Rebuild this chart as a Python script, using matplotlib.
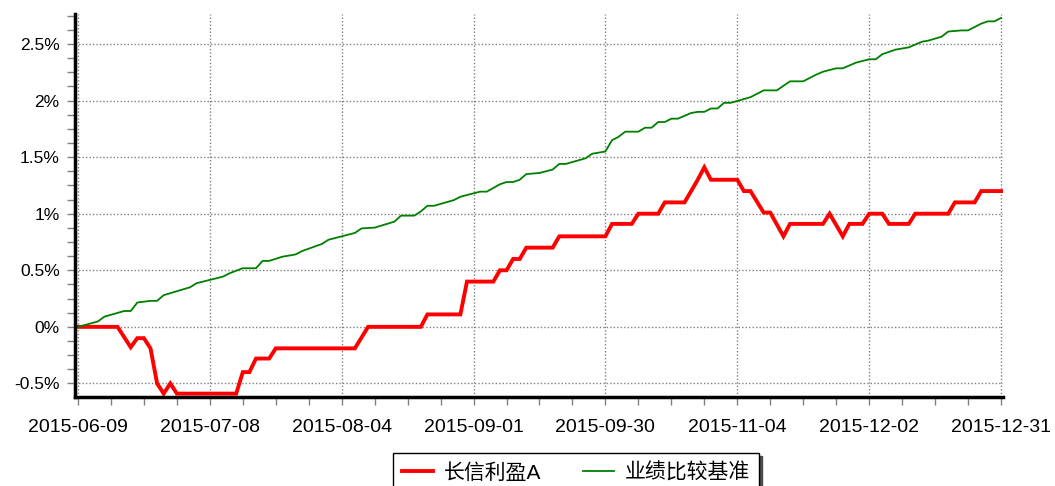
import matplotlib.pyplot as plt
from matplotlib.ticker import MultipleLocator

plt.rcParams['font.family'] = ['Liberation Sans', 'Noto Sans CJK SC']

# trading-day index (0 = 2015-06-09) and cumulative return in %
fund_days = [0, 6, 8, 9, 10, 11, 12, 13, 14, 15, 24, 25, 26, 27, 29, 30, 42, 44,
             52, 53, 58, 59, 63, 64, 65, 66, 67, 68, 72, 73, 80, 81, 84, 85, 88,
             89, 92, 94, 95, 96, 100, 101, 102, 104, 105, 107, 108, 113, 114, 116,
             117, 119, 120, 122, 123, 126, 127, 132, 133, 136, 137, 140]
fund_vals = [0, 0, -0.18, -0.1, -0.1, -0.19, -0.5, -0.59, -0.5, -0.59, -0.59, -0.4,
             -0.4, -0.28, -0.28, -0.19, -0.19, 0, 0, 0.11, 0.11, 0.4, 0.4, 0.5, 0.5,
             0.6, 0.6, 0.7, 0.7, 0.8, 0.8, 0.91, 0.91, 1.0, 1.0, 1.1, 1.1, 1.3, 1.41,
             1.3, 1.3, 1.2, 1.2, 1.01, 1.01, 0.8, 0.91, 0.91, 1.0, 0.8, 0.91, 0.91,
             1.0, 1.0, 0.91, 0.91, 1.0, 1.0, 1.1, 1.1, 1.2, 1.2]

bench_days = [0, 3, 4, 7, 8, 9, 11, 12, 13, 17, 18, 20, 22, 23, 25, 27, 28, 29, 31,
              33, 34, 37, 38, 40, 42, 43, 45, 48, 49, 51, 52, 53, 54, 57, 58, 61, 62,
              64, 65, 66, 67, 68, 70, 72, 73, 74, 77, 78, 80, 81, 82, 83, 85, 86, 87,
              88, 89, 90, 91, 93, 94, 95, 96, 97, 98, 99, 102, 103, 104, 106, 107,
              108, 110, 112, 113, 115, 116, 118, 120, 121, 122, 124, 126, 128, 129,
              131, 132, 134, 135, 137, 138, 139, 140]
bench_vals = [0, 0.047, 0.09, 0.14, 0.14, 0.215, 0.23, 0.23, 0.28, 0.35, 0.386, 0.415,
              0.444, 0.474, 0.518, 0.518, 0.583, 0.583, 0.62, 0.64, 0.67, 0.733, 0.77,
              0.80, 0.83, 0.87, 0.877, 0.93, 0.983, 0.983, 1.02, 1.07, 1.07, 1.12,
              1.15, 1.195, 1.195, 1.26, 1.28, 1.28, 1.30, 1.35, 1.36, 1.39, 1.44, 1.44,
              1.49, 1.53, 1.55, 1.65, 1.68, 1.725, 1.725, 1.76, 1.76, 1.81, 1.81, 1.84,
              1.84, 1.89, 1.90, 1.90, 1.93, 1.93, 1.98, 1.98, 2.03, 2.06, 2.09, 2.09,
              2.13, 2.17, 2.17, 2.23, 2.255, 2.285, 2.285, 2.335, 2.365, 2.365, 2.41,
              2.45, 2.47, 2.52, 2.53, 2.565, 2.61, 2.62, 2.62, 2.68, 2.70, 2.70, 2.73]

tick_days = [0, 20, 40, 60, 80, 100, 120, 140]
tick_labels = ['2015-06-09', '2015-07-08', '2015-08-04', '2015-09-01',
               '2015-09-30', '2015-11-04', '2015-12-02', '2015-12-31']
y_ticks = [-0.5, 0, 0.5, 1, 1.5, 2, 2.5]
y_labels = ['-0.5%', '0%', '0.5%', '1%', '1.5%', '2%', '2.5%']
series_names = ['长信利盈A', '业绩比较基准']

fig = plt.figure(figsize=(10.55, 4.86), dpi=100)
ax = fig.add_axes([0.0711, 0.1831, 0.8796, 0.7881])

ax.plot(fund_days, fund_vals, color='#ff0000', lw=2.8, label=series_names[0],
        solid_joinstyle='miter')
ax.plot(bench_days, bench_vals, color='#008000', lw=1.3, label=series_names[1])

ax.set_xlim(-0.45, 140.3)
ax.set_ylim(-0.62, 2.765)

ax.set_xticks(tick_days)
ax.set_xticklabels(tick_labels, fontsize=14)
ax.xaxis.set_minor_locator(MultipleLocator(5))
ax.set_yticks(y_ticks)
ax.set_yticklabels(y_labels, fontsize=12.5)
ax.yaxis.set_minor_locator(MultipleLocator(0.125))

ax.tick_params(which='both', color='#808080', length=6, width=1)
ax.tick_params(axis='x', which='both', pad=10)
ax.tick_params(axis='y', which='both', pad=5)

for s in ['top', 'right']:
    ax.spines[s].set_visible(False)
for s in ['left', 'bottom']:
    ax.spines[s].set_linewidth(2.5)
    ax.spines[s].set_color('black')

ax.set_axisbelow(True)
ax.grid(which='major', color='#808080', linestyle=(0, (1, 1.5)), linewidth=1)

leg = fig.legend(loc='upper center', bbox_to_anchor=(0.546, 0.068), ncol=2,
                 fontsize=15, frameon=True, fancybox=False, edgecolor='black',
                 handlelength=1.5, handletextpad=0.5, columnspacing=2.0,
                 borderpad=0.45, borderaxespad=0, shadow={'color': '0.3', 'alpha': 1})
leg.get_frame().set_linewidth(1)

fig.savefig('out.png', dpi=100)
